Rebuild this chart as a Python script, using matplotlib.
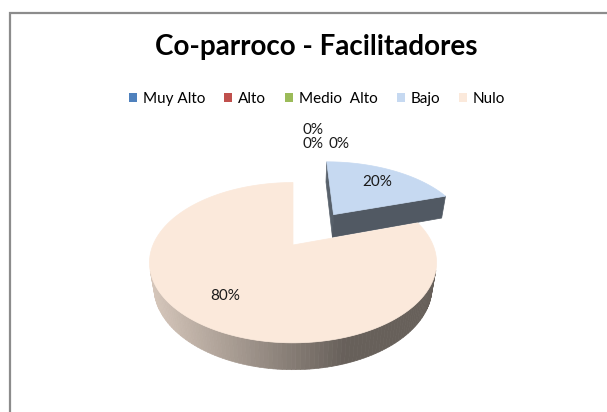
import numpy as np
import matplotlib
matplotlib.use("Agg")
import matplotlib.pyplot as plt
from matplotlib.patches import Polygon, Patch

# ── data ────────────────────────────────────────────────────────
title = "Co-parroco - Facilitadores"
categories = ["Muy Alto", "Alto", "Medio  Alto", "Bajo", "Nulo"]
values = [0, 0, 0, 20, 80]
colors = ["#4F81BD", "#C0504D", "#9BBB59", "#C6D9F1", "#FBE9DB"]
explode = [0, 0, 0, 0.54, 0]

# ── view / layout (pixel space) ────────────────────────────────
W, H = 607, 412
CX, CY, SCALE = 293, 245, 140
ELEV = np.radians(33)
DIST = 3.8
THICK = 0.21
SE, CE = np.sin(ELEV), np.cos(ELEV)
CAM = np.array([0.0, -DIST * CE, DIST * SE])
FONT = "Lato"


def project(x, y, z):
    x, y, z = np.asarray(x, float), np.asarray(y, float), np.asarray(z, float)
    q = y * CE - z * SE
    up = y * SE + z * CE
    f = 1.0 / (1.0 + q / DIST)
    return CX + SCALE * x * f, CY - SCALE * up * f


def depth(p):
    return p[1] * CE - p[2] * SE


def shade(color, px):
    rgb = np.array(matplotlib.colors.to_rgb(color))
    t = np.clip((px - 150) / (345 - 150), 0, 1)
    return tuple(rgb * (0.86 - 0.45 * t))


def visible(normal, point):
    return np.dot(normal, CAM - point) > 0


def draw_slice(ax, a0, a1, ox, oy, color):
    faces = []
    n = max(3, int((a1 - a0) / 1.5))
    th = np.radians(np.linspace(a0, a1, n))
    # outer side strips
    for t0, t1 in zip(th[:-1], th[1:]):
        tm = 0.5 * (t0 + t1)
        mid = np.array([ox + np.cos(tm), oy + np.sin(tm), -THICK / 2])
        if not visible(np.array([np.cos(tm), np.sin(tm), 0]), mid):
            continue
        xs = [ox + np.cos(t0), ox + np.cos(t1), ox + np.cos(t1), ox + np.cos(t0)]
        ys = [oy + np.sin(t0), oy + np.sin(t1), oy + np.sin(t1), oy + np.sin(t0)]
        zs = [0, 0, -THICK, -THICK]
        faces.append((depth(mid), xs, ys, zs))
    # radial faces
    for ang, sgn in ((np.radians(a0), 1), (np.radians(a1), -1)):
        nrm = np.array([sgn * np.sin(ang), -sgn * np.cos(ang), 0])
        mid = np.array([ox + 0.5 * np.cos(ang), oy + 0.5 * np.sin(ang), -THICK / 2])
        if not visible(nrm, mid):
            continue
        xs = [ox, ox + np.cos(ang), ox + np.cos(ang), ox]
        ys = [oy, oy + np.sin(ang), oy + np.sin(ang), oy]
        zs = [0, 0, -THICK, -THICK]
        faces.append((depth(mid), xs, ys, zs))
    faces.sort(key=lambda f: -f[0])
    for _, xs, ys, zs in faces:
        px, py = project(xs, ys, zs)
        c = shade(color, px.mean())
        ax.add_patch(Polygon(np.column_stack([px, py]), closed=True,
                             facecolor=c, edgecolor=c, lw=0.5))
    # top face
    xs = np.concatenate([[ox], ox + np.cos(th)])
    ys = np.concatenate([[oy], oy + np.sin(th)])
    px, py = project(xs, ys, np.zeros_like(xs))
    ax.add_patch(Polygon(np.column_stack([px, py]), closed=True,
                         facecolor=color, edgecolor=color, lw=0.5))


fig = plt.figure(figsize=(W / 100, H / 100), dpi=100)
ax = fig.add_axes([0, 0, 1, 1])
ax.set_xlim(0, W)
ax.set_ylim(H, 0)
ax.axis("off")

# chart border
ax.plot([9.5, 9.5, W], [H, 12.5, 12.5], color="#8c8c8c", lw=1.6,
        solid_joinstyle="miter")

total = float(sum(values))
slices = []
start = 90.0
for cat, v, c, e in zip(categories, values, colors, explode):
    sweep = 360.0 * v / total
    a1, a0 = start, start - sweep
    start = a0
    mid = np.radians(0.5 * (a0 + a1))
    ox, oy = e * np.cos(mid), e * np.sin(mid)
    slices.append((cat, v, c, a0, a1, ox, oy, mid))

# far slices first
for cat, v, c, a0, a1, ox, oy, mid in sorted(slices, key=lambda s: -(s[6] + np.sin(s[7]))):
    if v > 0:
        draw_slice(ax, a0, a1, ox, oy, c)

# data labels
zero_pos = [(313, 130), (313, 144), (339, 144)]
zi = 0
for cat, v, c, a0, a1, ox, oy, mid in slices:
    txt = f"{v / total * 100:.0f}%"
    if v > 0:
        lx, ly = project(ox + 0.72 * np.cos(mid), oy + 0.72 * np.sin(mid), 0)
    else:
        lx, ly = zero_pos[zi]
        zi += 1
    ax.text(lx, ly, txt, ha="center", va="center", fontsize=11,
            family=FONT, color="#1a1a1a")

ax.text(316, 55, title, ha="center", va="baseline", fontsize=20,
        fontweight="bold", family=FONT, color="black")

handles = [Patch(facecolor=c, edgecolor="none") for c in colors]
leg = ax.legend(handles, categories, loc="center", ncol=5,
                bbox_to_anchor=(317 / W, 1 - 99 / H), frameon=False,
                prop={"family": FONT, "size": 11}, handlelength=0.55,
                handleheight=0.55, handletextpad=0.35, columnspacing=1.25,
                borderpad=0)

fig.savefig("out.png", dpi=100)
